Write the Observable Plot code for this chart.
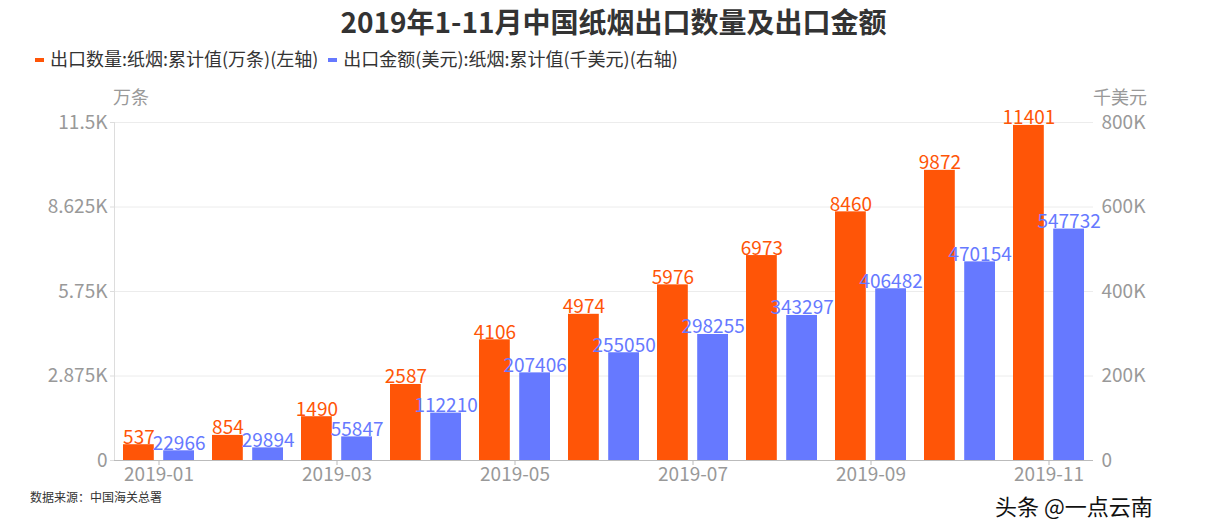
<!DOCTYPE html>
<html><head><meta charset="utf-8">
<script src="https://cdn.jsdelivr.net/npm/d3@7"></script>
<script src="https://cdn.jsdelivr.net/npm/@observablehq/plot@0.6"></script>
<style>
body{margin:0;background:#fff;font-family:"Noto Sans CJK SC","Noto Sans",sans-serif;}
#wrap{position:relative;width:1227px;height:520px;overflow:hidden;background:#fff}
#title{position:absolute;left:0;top:2px;width:1227px;text-align:center;font-size:28px;font-weight:bold;color:#333;line-height:38px}
#legend{position:absolute;left:35px;top:45px;font-size:18px;color:#333;line-height:26px;white-space:nowrap}
.sw{display:inline-block;width:9px;height:4px;vertical-align:middle;margin-right:6px;position:relative;top:-1px}
.item{display:inline-block;margin-right:10px}
.unit{position:absolute;top:86px;font-size:18px;color:#999;line-height:20px}
#chart{position:absolute;left:0;top:80px}
#source{position:absolute;left:30px;top:488px;font-size:12px;color:#333}
#wm{position:absolute;left:995px;top:493px;font-size:22px;line-height:24px;color:#111;white-space:nowrap;
 text-shadow:-1px -1px 0 #fff,1px -1px 0 #fff,-1px 1px 0 #fff,1px 1px 0 #fff}
</style></head><body>
<div id="wrap">
<div id="chart"></div>
<div id="title">2019年1-11月中国纸烟出口数量及出口金额</div>
<div id="legend"><span class="item"><span class="sw" style="background:#FF5507"></span>出口数量:纸烟:累计值(万条)(左轴)</span><span class="item"><span class="sw" style="background:#6679FF"></span>出口金额(美元):纸烟:累计值(千美元)(右轴)</span></div>
<div class="unit" style="left:113px">万条</div>
<div class="unit" style="left:1093px">千美元</div>
<div id="source">数据来源：中国海关总署</div>
<div id="wm">头条 @一点云南</div>
</div>
<script>
const months = ["2019-01","2019-02","2019-03","2019-04","2019-05","2019-06","2019-07","2019-08","2019-09","2019-10","2019-11"];
const qty = [537,854,1490,2587,4106,4974,5976,6973,8460,9872,11401];
const val = [22966,29894,55847,112210,207406,255050,298255,343297,406482,470154,547732];
const leftTicks = [0,2875,5750,8625,11500];
const leftTickLabels = ["0","2.875K","5.75K","8.625K","11.5K"];
const rightTickLabels = ["0","200K","400K","600K","800K"];
const xTickLabels = ["2019-01","2019-03","2019-05","2019-07","2019-09","2019-11"];
const leftMax = 11500, rightMax = 800000;

const k = leftMax / rightMax;
const qtyData = months.map((m,i)=>({month:m, v:qty[i]}));
const valData = months.map((m,i)=>({month:m, v:val[i], y:val[i]*k}));

const W = 1227, H = 440, mL = 114, mR = 134;
const bw = (W - mL - mR) / months.length * 0.8;
const barW = 31;
const inset = bw - barW;
const off = (bw - barW) / 2;
const ORANGE = "#FF5507", BLUE = "#6679FF";

const chart = Plot.plot({
  width: W, height: H,
  marginLeft: mL, marginRight: mR, marginTop: 42, marginBottom: 60,
  style: {fontSize: "18px", fontFamily: '"Noto Sans CJK SC","Noto Sans",sans-serif', background: "transparent"},
  x: {domain: months, paddingInner: 0.2, paddingOuter: 0.1, axis: null},
  y: {domain: [0, leftMax], axis: null},
  marks: [
    Plot.ruleY(leftTicks.slice(1), {stroke: "#ececec"}),
    Plot.frame({anchor: "left", stroke: "#dddddd"}),
    Plot.axisY(leftTicks, {anchor: "left", tickSize: 4, tickPadding: 3, color: "#999", stroke: "#ddd", fontSize: 19,
      tickFormat: d => leftTickLabels[leftTicks.indexOf(d)], label: null}),
    Plot.axisY(leftTicks, {anchor: "right", tickSize: 0, tickPadding: 8, color: "#999", fontSize: 19,
      tickFormat: d => rightTickLabels[leftTicks.indexOf(d)], label: null}),
    Plot.barY(qtyData, {x: "month", y: "v", fill: ORANGE, insetRight: inset}),
    Plot.barY(valData, {x: "month", y: "y", fill: BLUE, insetLeft: inset}),
    Plot.ruleY([0], {stroke: "#bbb"}),
    Plot.axisX(xTickLabels, {tickSize: 5, tickPadding: 2, color: "#999", stroke: "#bbb", fontSize: 19, label: null}),
    Plot.text(qtyData, {x: "month", y: "v", text: d => String(d.v), dx: -off, dy: -1, lineAnchor: "bottom", fill: ORANGE, fontSize: 19}),
    Plot.text(valData, {x: "month", y: "y", text: d => String(d.v), dx: off, dy: -1, lineAnchor: "bottom", fill: BLUE, fontSize: 19})
  ]
});
document.getElementById("chart").appendChild(chart);
</script>
</body></html>
